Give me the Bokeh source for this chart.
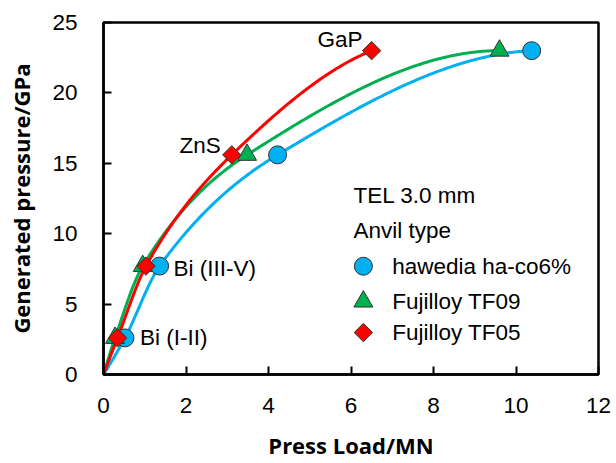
import numpy as np
from bokeh.plotting import figure
from bokeh.models import Label, Range1d, FixedTicker
from bokeh.embed import file_html
from bokeh.resources import INLINE

# ---- data ----
pressure = [2.6, 7.7, 15.6, 23.0]          # GPa (fixed points)
calibrants = ["Bi (I-II)", "Bi (III-V)", "ZnS", "GaP"]
load_hawedia = [0.52, 1.36, 4.22, 10.38]   # MN
load_tf09 = [0.28, 0.95, 3.48, 9.60]
load_tf05 = [0.34, 1.03, 3.11, 6.50]
series_names = ["hawedia ha-co6%", "Fujilloy TF09", "Fujilloy TF05"]
colors = ["#00B0F0", "#00B050", "#FF0000"]
x_ticks = [0, 2, 4, 6, 8, 10, 12]
y_ticks = [0, 5, 10, 15, 20, 25]

TICK_FONT = "Liberation Sans"
LABEL_FONT = "Open Sans"
FS = "22.5px"


def pchip(xs, ys, n=300):
    """shape-preserving cubic through the origin and the measured points"""
    x = np.concatenate([[0.0], np.asarray(xs, float)])
    y = np.concatenate([[0.0], np.asarray(ys, float)])
    h = np.diff(x)
    dl = np.diff(y) / h
    m = len(x)
    d = np.zeros(m)
    for k in range(1, m - 1):
        if dl[k - 1] * dl[k] > 0:
            w1 = 2 * h[k] + h[k - 1]
            w2 = h[k] + 2 * h[k - 1]
            d[k] = (w1 + w2) / (w1 / dl[k - 1] + w2 / dl[k])

    def end(h0, h1, d0, d1):
        v = ((2 * h0 + h1) * d0 - h0 * d1) / (h0 + h1)
        if np.sign(v) != np.sign(d0):
            v = 0.0
        elif np.sign(d0) != np.sign(d1) and abs(v) > 3 * abs(d0):
            v = 3 * d0
        return v

    d[0] = end(h[0], h[1], dl[0], dl[1])
    d[-1] = end(h[-1], h[-2], dl[-1], dl[-2])
    xx = np.linspace(0, x[-1], n)
    idx = np.clip(np.searchsorted(x, xx) - 1, 0, m - 2)
    t = (xx - x[idx]) / h[idx]
    h00 = 2 * t ** 3 - 3 * t ** 2 + 1
    h10 = t ** 3 - 2 * t ** 2 + t
    h01 = -2 * t ** 3 + 3 * t ** 2
    h11 = t ** 3 - t ** 2
    yy = h00 * y[idx] + h10 * h[idx] * d[idx] + h01 * y[idx + 1] + h11 * h[idx] * d[idx + 1]
    return xx, yy


p = figure(width=616, height=463, x_range=Range1d(0, 12), y_range=Range1d(0, 25),
           output_backend="svg", toolbar_location=None,
           min_border_left=103, min_border_right=18, min_border_top=22, min_border_bottom=89)
p.xgrid.visible = False
p.ygrid.visible = False
p.outline_line_color = "black"
p.outline_line_width = 2.5
p.background_fill_color = "white"
p.border_fill_color = "white"

loads = [load_hawedia, load_tf09, load_tf05]
for xs, col in zip(loads, colors):
    xx, yy = pchip(xs, pressure)
    p.line(xx, yy, line_color=col, line_width=3)

p.scatter(load_hawedia, pressure, marker="circle", size=18, fill_color=colors[0],
          line_color="#333333", line_width=1)
p.scatter(load_tf09, pressure, marker="triangle", size=19, fill_color=colors[1],
          line_color="#333333", line_width=1)
p.scatter(load_tf05, pressure, marker="square", angle=np.pi / 4, size=13, fill_color=colors[2],
          line_color="#333333", line_width=1)

# calibrant annotations
ann = [
    (calibrants[0], load_hawedia[0], pressure[0], 15, 0, "left"),
    (calibrants[1], load_hawedia[1], pressure[1], 14, -2, "left"),
    (calibrants[2], load_tf05[2], pressure[2], -11, 9, "right"),
    (calibrants[3], load_tf05[3], pressure[3], -9, 11, "right"),
]
for txt, x, y, dx, dy, al in ann:
    p.add_layout(Label(x=x, y=y, x_offset=dx, y_offset=dy, text=txt, text_align=al,
                       text_baseline="middle", text_font=TICK_FONT, text_font_size=FS,
                       text_color="black"))

# manual legend
p.add_layout(Label(x=6.06, y=12.71, text="TEL 3.0 mm", text_baseline="middle",
                   text_font=TICK_FONT, text_font_size=FS, text_color="black"))
p.add_layout(Label(x=6.06, y=10.23, text="Anvil type", text_baseline="middle",
                   text_font=TICK_FONT, text_font_size=FS, text_color="black"))
leg_y = [7.69, 5.18, 2.98]
markers = [("circle", 18, 0.0), ("triangle", 19, 0.0), ("square", 13, np.pi / 4)]
for (mk, sz, ang), col, ly, name in zip(markers, colors, leg_y, series_names):
    p.scatter([6.30], [ly], marker=mk, size=sz, angle=ang, fill_color=col,
              line_color="#333333", line_width=1)
    p.add_layout(Label(x=7.0, y=ly, text=name, text_baseline="middle",
                       text_font=TICK_FONT, text_font_size=FS, text_color="black"))

for ax, ticks in ((p.xaxis, x_ticks), (p.yaxis, y_ticks)):
    ax.ticker = FixedTicker(ticks=ticks)
    ax.minor_tick_line_color = None
    ax.major_tick_in = 8
    ax.major_tick_out = 0
    ax.major_tick_line_width = 2
    ax.major_tick_line_color = "black"
    ax.axis_line_width = 2.5
    ax.axis_line_color = "black"
    ax.major_label_text_font = TICK_FONT
    ax.major_label_text_font_size = FS
    ax.major_label_text_color = "black"
    ax.axis_label_text_font = LABEL_FONT
    ax.axis_label_text_font_style = "bold"
    ax.axis_label_text_font_size = "22px"
    ax.axis_label_text_color = "black"

p.xaxis.axis_label = "Press Load/MN"
p.yaxis.axis_label = "Generated pressure/GPa"
p.xaxis.major_label_standoff = 23
p.xaxis.axis_label_standoff = 14
p.yaxis.major_label_standoff = 26
p.yaxis.axis_label_standoff = 13

open("out.html", "w").write(file_html(p, INLINE))
